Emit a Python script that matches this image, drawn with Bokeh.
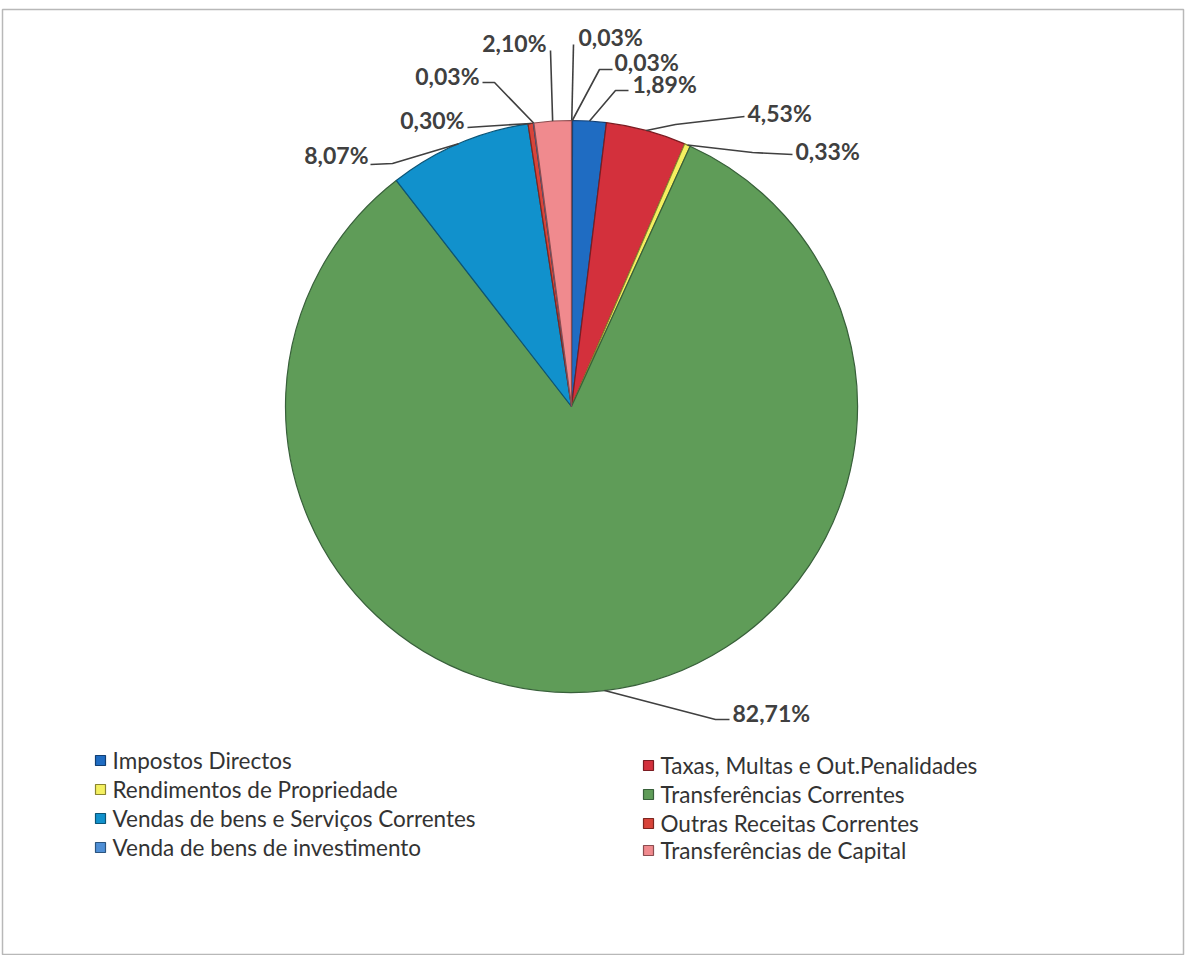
import math
from bokeh.plotting import figure
from bokeh.models import ColumnDataSource, Range1d
from bokeh.core.properties import value
from bokeh.embed import file_html
from bokeh.resources import INLINE

# ---------------- data ----------------
categories = [
    "Outra receita 1",
    "Outra receita 2",
    "Impostos Directos",
    "Taxas, Multas e Out.Penalidades",
    "Rendimentos de Propriedade",
    "Transferências Correntes",
    "Vendas de bens e Serviços Correntes",
    "Outras Receitas Correntes",
    "Venda de bens de investimento",
    "Transferências de Capital",
]
shares = [0.03, 0.03, 1.89, 4.53, 0.33, 82.71, 8.07, 0.30, 0.03, 2.10]
share_labels = ["0,03%", "0,03%", "1,89%", "4,53%", "0,33%", "82,71%",
                "8,07%", "0,30%", "0,03%", "2,10%"]

legend_left = ["Impostos Directos", "Rendimentos de Propriedade",
               "Vendas de bens e Serviços Correntes", "Venda de bens de investimento"]
legend_right = ["Taxas, Multas e Out.Penalidades", "Transferências Correntes",
                "Outras Receitas Correntes", "Transferências de Capital"]

# ---------------- styles ----------------
colors = {
    "Outra receita 1": "#8064a2",
    "Outra receita 2": "#4bacc6",
    "Impostos Directos": "#1f6cc2",
    "Taxas, Multas e Out.Penalidades": "#d3303c",
    "Rendimentos de Propriedade": "#f4f060",
    "Transferências Correntes": "#5f9c58",
    "Vendas de bens e Serviços Correntes": "#1191cc",
    "Outras Receitas Correntes": "#d8443a",
    "Venda de bens de investimento": "#4f8fd6",
    "Transferências de Capital": "#f08a8e",
}
edge_colors = {
    "Outra receita 1": "#4a3a63",
    "Outra receita 2": "#2a6a7a",
    "Impostos Directos": "#123f73",
    "Taxas, Multas e Out.Penalidades": "#7a1c22",
    "Rendimentos de Propriedade": "#8a8530",
    "Transferências Correntes": "#38603a",
    "Vendas de bens e Serviços Correntes": "#0b5577",
    "Outras Receitas Correntes": "#7d2620",
    "Venda de bens de investimento": "#2c557f",
    "Transferências de Capital": "#8c4d50",
}

IMG_H = 970
def Y(v):
    return IMG_H - v

CX, CY, R = 579, Y(414), 286

# label layout (image pixel coordinates): elbow point, end point, text anchor point, align
label_layout = [
    ((581, 52), (581, 52), (586, 44), "left"),
    ((607, 77), (620, 77), (622, 69), "left"),
    ((623, 98), (636, 98), (640, 91), "left"),
    ((683, 132), (752, 124), (755, 120), "left"),
    ((760, 160), (800, 162), (803, 158), "left"),
    ((723, 727), (737, 727), (740, 720), "left"),
    ((400, 171), (378, 172), (376, 162), "right"),
    ((490, 134), (475, 135), (472, 127), "right"),
    ((502, 90), (490, 90), (487, 83), "right"),
    ((558, 58), (558, 58), (554, 50), "right"),
]

W_FIG, H_FIG = 1185, 955
p = figure(width=W_FIG, height=H_FIG, output_backend="svg", toolbar_location=None,
           x_range=Range1d(8, 8 + W_FIG), y_range=Range1d(IMG_H - 8 - H_FIG, IMG_H - 8),
           min_border=0)
p.axis.visible = False
p.grid.visible = False
p.outline_line_color = None
p.background_fill_color = "white"

# chart area border
p.quad(left=[10], right=[1191], top=[Y(17)], bottom=[Y(962)], fill_color=None,
       line_color="#b8b8b8", line_width=1.5)

total = sum(shares)
starts, ends, fills, lines = [], [], [], []
mids = []
cum = 0.0
for c, s in zip(categories, shares):
    a0 = math.pi / 2 - 2 * math.pi * cum / total
    cum += s
    a1 = math.pi / 2 - 2 * math.pi * cum / total
    starts.append(a1)
    ends.append(a0)
    mids.append((a0 + a1) / 2)
    fills.append(colors[c])
    lines.append(edge_colors[c])

src = ColumnDataSource(dict(start=starts, end=ends, fill=fills, line=lines, cat=categories))
p.wedge(x=CX, y=CY, radius=R, start_angle="start", end_angle="end",
        fill_color="fill", line_color="line", line_width=1.2, source=src)

# labels with leader lines
lx, ly, lxs, lys, ltxt, lal = [], [], [], [], [], []
for lab, mid, (elb, end, tp, al) in zip(share_labels, mids, label_layout):
    sx = CX + R * math.cos(mid)
    sy = CY + R * math.sin(mid)
    lxs.append([sx, elb[0], end[0]])
    lys.append([sy, Y(elb[1]), Y(end[1])])
    lx.append(tp[0]); ly.append(Y(tp[1])); ltxt.append(lab); lal.append(al)

p.multi_line(xs=lxs, ys=lys, line_color="#404040", line_width=1.6)
lsrc = ColumnDataSource(dict(x=lx, y=ly, t=ltxt, a=lal))
p.text(x="x", y="y", text="t", text_align="a", text_baseline="middle",
       text_font=value("Lato"), text_font_style="bold", text_font_size="23px",
       text_color="#404040", source=lsrc)

# legend (two columns)
leg_x = [108] * 4 + [656] * 4
leg_y = [768, 797, 826, 855, 773, 802, 831, 858]
leg_names = legend_left + legend_right
lgsrc = ColumnDataSource(dict(
    x=leg_x, y=[Y(v) for v in leg_y], tx=[v + 12 for v in leg_x], t=leg_names,
    fill=[colors[n] for n in leg_names], line=[edge_colors[n] for n in leg_names]))
p.scatter(x="x", y="y", marker="square", size=10, fill_color="fill", line_color="line",
          line_width=1.2, source=lgsrc)
p.text(x="tx", y="y", text="t", text_align="left", text_baseline="middle",
       text_font=value("Lato"), text_font_size="22.5px", text_color="#333333", source=lgsrc)

open("out.html", "w").write(file_html(p, INLINE))
